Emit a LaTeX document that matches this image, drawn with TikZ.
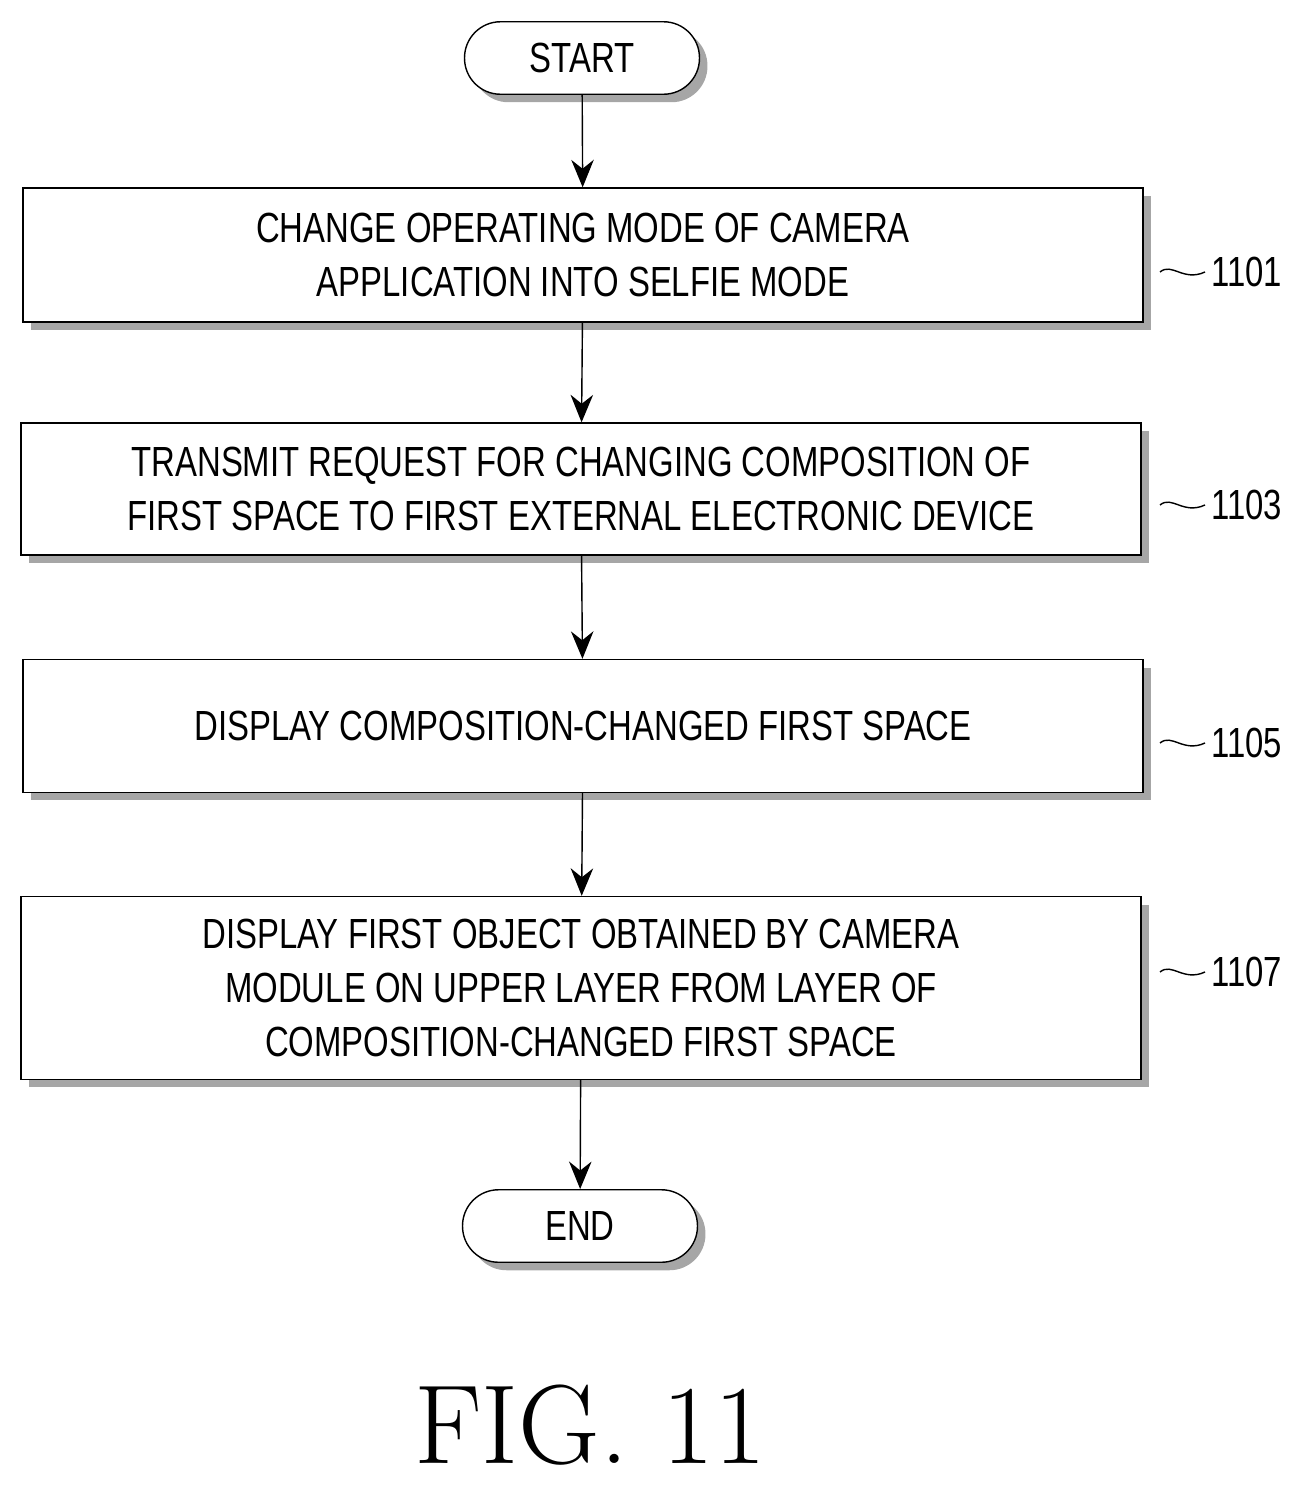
\documentclass[tikz,border=0pt]{standalone}
\usepackage{fontspec}
\setsansfont{Liberation Sans}[FakeStretch=0.78]
\usetikzlibrary{arrows.meta,shadows}

\begin{document}
\begin{tikzpicture}[x=0.02cm,y=-0.02cm,
    shd/.style={drop shadow={shadow xshift=0.16cm,shadow yshift=-0.16cm,
      fill=gray!70,opacity=1}},
    box/.style={draw,thick,fill=white,shd,align=center,font=\sffamily\fontsize{24}{31}\selectfont,
      minimum width=22.4cm},
    term/.style={box,rounded corners=0.72cm,minimum width=4.7cm,minimum height=1.45cm},
    arj/.style={thick,-{Stealth[length=0.55cm,width=0.45cm]}},
    stepno/.style={font=\sffamily\fontsize{24}{28}\selectfont}]
  \useasboundingbox (0,0) rectangle (1315,1498);
  \node[term] (start) at (582,58) {START};
  \node[box,minimum height=2.68cm] (s1) at (583,255)
    {CHANGE OPERATING MODE OF CAMERA\\APPLICATION INTO SELFIE MODE};
  \node[box,minimum height=2.64cm] (s2) at (581,489)
    {TRANSMIT REQUEST FOR CHANGING COMPOSITION OF\\FIRST SPACE TO FIRST EXTERNAL ELECTRONIC DEVICE};
  \node[box,minimum height=2.66cm] (s3) at (583,726)
    {DISPLAY COMPOSITION-CHANGED FIRST SPACE};
  \node[box,minimum height=3.66cm] (s4) at (581,988)
    {DISPLAY FIRST OBJECT OBTAINED BY CAMERA\\MODULE ON UPPER LAYER FROM LAYER OF\\COMPOSITION-CHANGED FIRST SPACE};
  \node[term] (end) at (580,1226) {END};
  % connectors
  \draw[arj] (start) -- (s1);
  \draw[arj] (s1) -- (s2);
  \draw[arj] (s2) -- (s3);
  \draw[arj] (s3) -- (s4);
  \draw[arj] (s4) -- (end);
  % step numbers
  \foreach \n/\y in {1101/272,1103/505,1105/743,1107/972}{
    \node[stepno,anchor=west] (l\n) at (1205,\y) {\n};
    \draw[thick] (1160,\y) .. controls (1172,\y-10) and (1183,\y+10) .. (l\n.west);
  }
  \node[font=\fontsize{64}{72}\selectfont] (fig) at (590,1425) {FIG. 11};
\end{tikzpicture}
\end{document}
